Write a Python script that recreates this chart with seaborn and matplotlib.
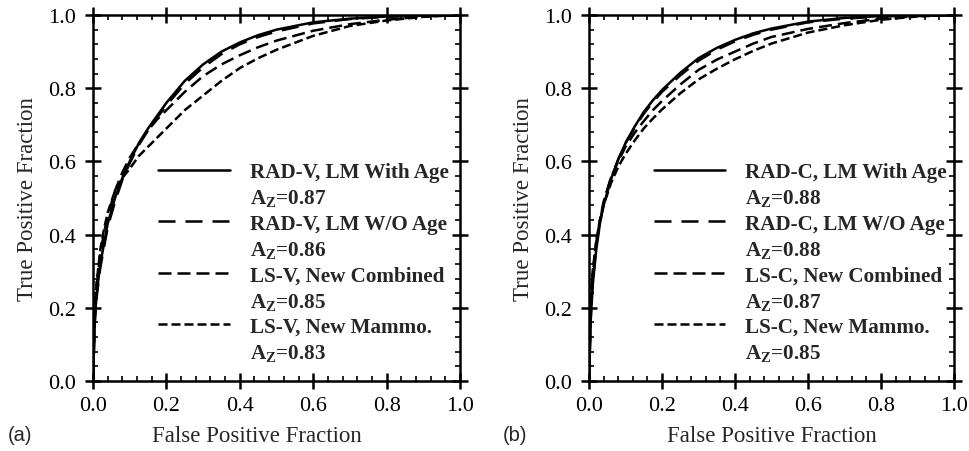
import numpy as np
import pandas as pd
import matplotlib
matplotlib.use("Agg")
import matplotlib.pyplot as plt
from matplotlib.lines import Line2D
from matplotlib.ticker import MultipleLocator
import seaborn as sns

# ---------------- data ----------------
fpf = [0.0, 0.005, 0.01, 0.02, 0.03, 0.04, 0.06, 0.08, 0.10, 0.125, 0.15, 0.175,
       0.20, 0.25, 0.30, 0.35, 0.40, 0.45, 0.50, 0.60, 0.70, 0.80, 0.90, 1.0]

# panel (a)
a_rad_age = [0.0, 0.17, 0.24, 0.32, 0.375, 0.43, 0.50, 0.555, 0.60, 0.65, 0.69, 0.725,
             0.76, 0.82, 0.865, 0.90, 0.925, 0.945, 0.96, 0.98, 0.99, 0.996, 0.999, 1.0]
a_rad_noage = [0.0, 0.16, 0.23, 0.31, 0.365, 0.42, 0.49, 0.55, 0.595, 0.645, 0.685, 0.72,
               0.753, 0.812, 0.857, 0.893, 0.92, 0.94, 0.955, 0.977, 0.989, 0.995, 0.999, 1.0]
a_ls_comb = [0.0, 0.19, 0.26, 0.35, 0.405, 0.45, 0.52, 0.57, 0.61, 0.65, 0.685, 0.715,
             0.74, 0.79, 0.833, 0.865, 0.89, 0.912, 0.93, 0.957, 0.975, 0.987, 0.996, 1.0]
a_ls_mammo = [0.0, 0.20, 0.27, 0.36, 0.415, 0.46, 0.52, 0.555, 0.58, 0.615, 0.64, 0.665,
              0.69, 0.74, 0.78, 0.82, 0.855, 0.882, 0.905, 0.943, 0.97, 0.985, 0.995, 1.0]

# panel (b)
b_rad_age = [0.0, 0.17, 0.26, 0.36, 0.43, 0.48, 0.55, 0.605, 0.65, 0.695, 0.735, 0.767,
             0.795, 0.842, 0.882, 0.91, 0.932, 0.95, 0.963, 0.982, 0.992, 0.997, 0.999, 1.0]
b_rad_noage = [0.0, 0.18, 0.27, 0.37, 0.435, 0.485, 0.555, 0.605, 0.65, 0.692, 0.73, 0.762,
               0.79, 0.835, 0.875, 0.905, 0.928, 0.946, 0.96, 0.98, 0.99, 0.996, 0.999, 1.0]
b_ls_comb = [0.0, 0.22, 0.29, 0.38, 0.44, 0.49, 0.555, 0.60, 0.64, 0.678, 0.71, 0.74,
             0.765, 0.81, 0.85, 0.878, 0.90, 0.922, 0.94, 0.962, 0.978, 0.99, 0.997, 1.0]
b_ls_mammo = [0.0, 0.23, 0.30, 0.385, 0.44, 0.48, 0.54, 0.585, 0.62, 0.657, 0.69, 0.717,
              0.742, 0.786, 0.824, 0.853, 0.879, 0.902, 0.922, 0.952, 0.972, 0.987, 0.996, 1.0]

a_labels = ["RAD-V, LM With Age", "RAD-V, LM W/O Age",
            "LS-V, New Combined", "LS-V, New Mammo."]
b_labels = ["RAD-C, LM With Age", "RAD-C, LM W/O Age",
            "LS-C, New Combined", "LS-C, New Mammo."]
a_az = ["0.87", "0.86", "0.85", "0.83"]
b_az = ["0.88", "0.88", "0.87", "0.85"]

tick_vals = [0.0, 0.2, 0.4, 0.6, 0.8, 1.0]
tick_labels = ["0.0", "0.2", "0.4", "0.6", "0.8", "1.0"]

# ---------------- style ----------------
sns.set_theme(style="ticks")
plt.rcParams["font.family"] = ["Liberation Serif", "DejaVu Serif"]
plt.rcParams["mathtext.fontset"] = "custom"
plt.rcParams["mathtext.rm"] = "Liberation Serif"
plt.rcParams["mathtext.bf"] = "Liberation Serif:bold"
plt.rcParams["mathtext.it"] = "Liberation Serif:italic"

LW = 1.8
styles = ["-", (0, (6.8, 4.0)), (0, (5.2, 2.4)), (0, (3.6, 1.6))]

fig = plt.figure(figsize=(9.7, 4.52), dpi=100)
W, H = 970, 452


def px_axes(x0, x1, y0, y1):
    return fig.add_axes([x0 / W, 1 - y1 / H, (x1 - x0) / W, (y1 - y0) / H])


ax_a = px_axes(93, 460, 16, 382)
ax_b = px_axes(589, 954, 16, 382)

panels = [
    (ax_a, [a_rad_age, a_rad_noage, a_ls_comb, a_ls_mammo], a_labels, a_az, "(a)", 8, 0.447),
    (ax_b, [b_rad_age, b_rad_noage, b_ls_comb, b_ls_mammo], b_labels, b_az, "(b)", 503, 0.5),
]

for ax, series, labels, azs, tag, tagx, xlab_x in panels:
    for vals, ls in zip(series, styles):
        df = pd.DataFrame({"fpf": fpf, "tpf": vals})
        sns.lineplot(data=df, x="fpf", y="tpf", ax=ax, color="black",
                     linewidth=LW, linestyle=ls, sort=False, estimator=None)
    ax.set_xlim(0, 1)
    ax.set_ylim(0, 1)
    ax.set_xticks(tick_vals)
    ax.set_xticklabels(tick_labels)
    ax.set_yticks(tick_vals)
    ax.set_yticklabels(tick_labels)
    ax.xaxis.set_minor_locator(MultipleLocator(0.04))
    ax.yaxis.set_minor_locator(MultipleLocator(0.04))
    ax.tick_params(which="major", direction="inout", length=11, width=LW,
                   top=True, right=True, labelsize=16, pad=5, colors="black")
    ax.tick_params(axis="y", which="major", pad=7)
    ax.tick_params(which="minor", direction="in", length=3.5, width=1.2,
                   top=True, right=True, colors="black")
    for sp in ax.spines.values():
        sp.set_linewidth(LW)
        sp.set_color("black")
        sp.set_visible(True)
    ax.set_xlabel("False Positive Fraction", fontsize=16.5)
    ax.set_ylabel("True Positive Fraction", fontsize=16.5)
    ax.xaxis.set_label_coords(xlab_x, -0.121)
    ax.yaxis.set_label_coords(-0.15, 0.5)

    handles, texts = [], []
    for lab, az, ls in zip(labels, azs, styles):
        handles.append(Line2D([], [], color="black", linewidth=LW, linestyle=ls))
        texts.append(lab)
        handles.append(Line2D([], [], color="none"))
        texts.append(r"A$_\mathbf{Z}$=" + az)
    ax.legend(handles, texts, loc="upper left", bbox_to_anchor=(0.177, 0.598),
              frameon=False, handlelength=3.4, handletextpad=0.95,
              labelspacing=0.25, borderpad=0, borderaxespad=0,
              prop={"family": "Liberation Serif", "weight": "bold", "size": 15.2})

    fig.text(tagx / W, 1 - 436 / H, tag, family="Liberation Sans", fontsize=14.5,
             ha="left", va="center")

fig.savefig("out.png", dpi=100)
